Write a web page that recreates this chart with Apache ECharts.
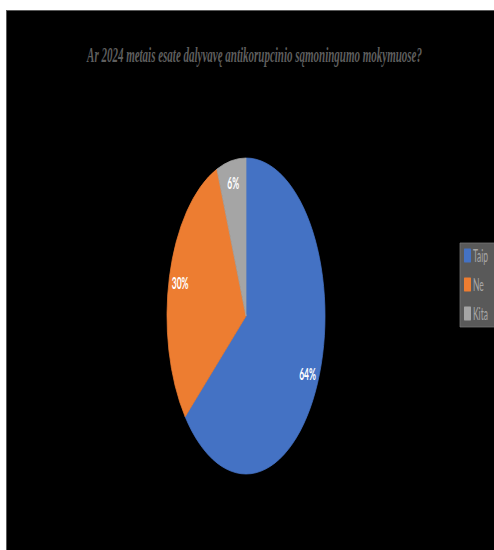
<!DOCTYPE html>
<html>
<head>
<meta charset="utf-8">
<script src="https://cdn.jsdelivr.net/npm/echarts@6/dist/echarts.min.js"></script>
<style>
  html, body { margin: 0; padding: 0; background: #ffffff; overflow: hidden; }
  #frame { position: absolute; left: 6px; top: 10px; width: 488px; height: 540px;
           background: #000; box-sizing: border-box; border-left: 1px solid #5a5a5a; border-top: 1px solid #5a5a5a; overflow: hidden; }
  #chart { position: absolute; left: 0; top: 0; width: 976px; height: 540px;
           transform: scaleX(0.5); transform-origin: 0 0; }
</style>
</head>
<body>
<div id="frame"><div id="chart"></div></div>
<script>
const titleText = 'Ar 2024 metais esate dalyvavę antikorupcinio sąmoningumo mokymuose?';
const categories = ['Taip', 'Ne', 'Kita'];
const values = [64, 30, 6];
const colors = ['#4472C4', '#ED7D31', '#A5A5A5'];

const data = categories.map((c, i) => ({
  name: c, value: values[i],
  itemStyle: { color: colors[i], borderColor: colors[i], borderWidth: 1 }
}));

const chart = echarts.init(document.getElementById('chart'), null, { renderer: 'svg' });
chart.setOption({
  backgroundColor: '#000000',
  animation: false,
  title: {
    text: titleText,
    left: 490, top: 28, textAlign: 'center',
    textStyle: { fontFamily: 'Liberation Serif', fontStyle: 'italic', fontWeight: 'bold', fontSize: 22, color: '#5e5e5e' }
  },
  legend: {
    orient: 'vertical',
    left: 906, top: 232,
    itemWidth: 12, itemHeight: 12, itemGap: 12,
    icon: 'rect',
    backgroundColor: '#595959',
    borderColor: '#7a7a7a', borderWidth: 1,
    padding: [4, 30, 5, 8],
    textStyle: { color: '#a6a6a6', fontSize: 17, fontFamily: 'Lato' },
    data: categories
  },
  series: [
    {
      type: 'pie',
      center: [478, 305],
      radius: [0, 158],
      startAngle: 90,
      clockwise: true,
      label: { show: false },
      labelLine: { show: false },
      emphasis: { disabled: true },
      data: data
    },
    {
      type: 'pie',
      center: [478, 305],
      radius: [108, 158],
      startAngle: 90,
      clockwise: true,
      silent: true,
      itemStyle: { color: 'transparent', borderWidth: 0 },
      label: { show: true, position: 'inside', formatter: '{d}%', color: '#ffffff',
               fontWeight: 'bold', fontSize: 17, fontFamily: 'Lato' },
      labelLine: { show: false },
      legendHoverLink: false,
      data: categories.map((c, i) => ({ name: c + ' ', value: values[i], itemStyle: { color: 'transparent', borderWidth: 0 } }))
    }
  ]
});
</script>
</body>
</html>
